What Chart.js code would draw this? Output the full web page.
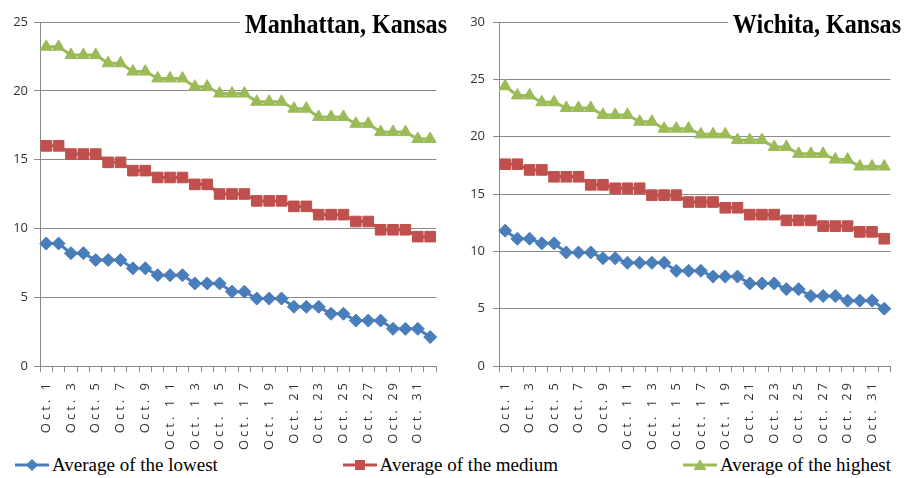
<!DOCTYPE html>
<html>
<head>
<meta charset="utf-8">
<script src="https://cdn.jsdelivr.net/npm/chart.js@4.4.0/dist/chart.umd.min.js"></script>
<style>
  html, body { margin: 0; padding: 0; background: #fff; }
  #wrap { position: relative; width: 908px; height: 478px; overflow: hidden; }
  #manhattan { position: absolute; left: 0; top: 0; }
  #wichita { position: absolute; left: 454px; top: 0; }
  #legend {
    position: absolute; left: 0; top: 455px; width: 908px; box-sizing: border-box;
    padding: 0 17px 0 15px; display: flex; justify-content: space-between;
    font: 19px "Liberation Serif", serif; line-height: 19px; color: #000;
  }
  .item { display: flex; align-items: center; white-space: nowrap; }
  .item svg { margin-right: 3px; }
</style>
</head>
<body>
<div id="wrap">
  <canvas id="manhattan" width="454" height="452"></canvas>
  <canvas id="wichita" width="454" height="452"></canvas>
  <div id="legend"></div>
</div>
<script>
// categories (every other one is shown on the axis)
const dayLabels = ['Oct. 1', 'Oct. 2', 'Oct. 3', 'Oct. 4', 'Oct. 5', 'Oct. 6', 'Oct. 7', 'Oct. 8',
  'Oct. 9', 'Oct. 10', 'Oct. 1 1', 'Oct. 12', 'Oct. 1 3', 'Oct. 14', 'Oct. 1 5', 'Oct. 16',
  'Oct. 1 7', 'Oct. 18', 'Oct. 1 9', 'Oct. 20', 'Oct. 21', 'Oct. 22', 'Oct. 23', 'Oct. 24',
  'Oct. 25', 'Oct. 26', 'Oct. 27', 'Oct. 28', 'Oct. 29', 'Oct. 30', 'Oct. 31', 'Nov. 1'];

const seriesNames = ['Average of the lowest', 'Average of the medium', 'Average of the highest'];
const cities = ['Manhattan, Kansas', 'Wichita, Kansas'];
const yMaxes = [25, 30];
const yStep = 5;

// Manhattan
const manhattanLowest = [8.9, 8.9, 8.2, 8.2, 7.7, 7.7, 7.7, 7.1, 7.1, 6.6, 6.6, 6.6, 6.0, 6.0, 6.0, 5.4,
  5.4, 4.9, 4.9, 4.9, 4.3, 4.3, 4.3, 3.8, 3.8, 3.3, 3.3, 3.3, 2.7, 2.7, 2.7, 2.1];
const manhattanMedium = [16.0, 16.0, 15.4, 15.4, 15.4, 14.8, 14.8, 14.2, 14.2, 13.7, 13.7, 13.7, 13.2, 13.2, 12.5, 12.5,
  12.5, 12.0, 12.0, 12.0, 11.6, 11.6, 11.0, 11.0, 11.0, 10.5, 10.5, 9.9, 9.9, 9.9, 9.4, 9.4];
const manhattanHighest = [23.2, 23.2, 22.6, 22.6, 22.6, 22.0, 22.0, 21.4, 21.4, 20.9, 20.9, 20.9, 20.3, 20.3, 19.8, 19.8,
  19.8, 19.2, 19.2, 19.2, 18.7, 18.7, 18.1, 18.1, 18.1, 17.6, 17.6, 17.0, 17.0, 17.0, 16.5, 16.5];

// Wichita
const wichitaLowest = [11.8, 11.1, 11.1, 10.7, 10.7, 9.9, 9.9, 9.9, 9.4, 9.4, 9.0, 9.0, 9.0, 9.0, 8.3, 8.3,
  8.3, 7.8, 7.8, 7.8, 7.2, 7.2, 7.2, 6.7, 6.7, 6.1, 6.1, 6.1, 5.7, 5.7, 5.7, 5.0];
const wichitaMedium = [17.6, 17.6, 17.1, 17.1, 16.5, 16.5, 16.5, 15.8, 15.8, 15.5, 15.5, 15.5, 14.9, 14.9, 14.9, 14.3,
  14.3, 14.3, 13.8, 13.8, 13.2, 13.2, 13.2, 12.7, 12.7, 12.7, 12.2, 12.2, 12.2, 11.7, 11.7, 11.1];
const wichitaHighest = [24.4, 23.6, 23.6, 23.0, 23.0, 22.5, 22.5, 22.5, 21.9, 21.9, 21.9, 21.3, 21.3, 20.7, 20.7, 20.7,
  20.2, 20.2, 20.2, 19.7, 19.7, 19.7, 19.1, 19.1, 18.5, 18.5, 18.5, 18.0, 18.0, 17.4, 17.4, 17.4];

const seriesColors = ['#4a7ebb', '#c0504d', '#9bbb59'];
const pointStyles = ['rectRot', 'rect', 'triangle'];
const pointSizes = [6.5, 7.5, 7];
const gridColor = '#8a8a8a';
const tickFont = { family: '"Open Sans", sans-serif', size: 13 };

// city name in the top right corner, over the top gridline
const cornerTitle = {
  id: 'cornerTitle',
  afterDraw(chart, args, opts) {
    const c = chart.ctx;
    const squeeze = 0.86;
    c.save();
    c.font = 'bold 28px "Liberation Serif", serif';
    const w = c.measureText(opts.text).width * squeeze;
    const right = chart.width - 7;
    c.fillStyle = '#fff';
    c.fillRect(right - w - 5, 2, w + 8, 36);
    c.translate(right - w, 33);
    c.scale(squeeze, 1);
    c.fillStyle = '#000';
    c.textBaseline = 'alphabetic';
    c.fillText(opts.text, 0, 0);
    c.restore();
  }
};

// the x labels in the picture are widely spaced
const spacedTicks = {
  id: 'spacedTicks',
  afterLayout(chart) {
    const sc = chart.scales.x;
    if (sc.spaced) return;
    const draw = sc.drawLabels;
    sc.drawLabels = function (area) {
      this.ctx.save();
      this.ctx.letterSpacing = '3px';
      draw.call(this, area);
      this.ctx.restore();
    };
    sc.spaced = true;
  }
};

function makeChart(id, title, series, yMax, axisWidth, padRight, labelPad) {
  return new Chart(document.getElementById(id), {
    type: 'line',
    data: {
      labels: dayLabels,
      datasets: series.map((values, i) => ({
        label: seriesNames[i],
        data: values,
        borderColor: seriesColors[i],
        backgroundColor: seriesColors[i],
        borderWidth: 3,
        pointStyle: pointStyles[i],
        pointRadius: pointSizes[i],
        pointBorderWidth: 1,
        tension: 0
      }))
    },
    options: {
      responsive: false,
      animation: false,
      events: [],
      layout: { padding: { top: 22, right: padRight, bottom: 0, left: 0 } },
      plugins: {
        legend: { display: false },
        tooltip: { enabled: false },
        cornerTitle: { text: title }
      },
      scales: {
        x: {
          offset: true,
          grid: { offset: true, drawOnChartArea: false, drawTicks: true, tickLength: 6, color: gridColor },
          border: { display: true, color: gridColor, width: 1 },
          ticks: {
            autoSkip: false,
            minRotation: 90,
            maxRotation: 90,
            padding: 8,
            color: '#333',
            font: tickFont,
            callback: (v, i) => (i % 2 === 0 ? dayLabels[i] : '')
          },
          afterFit: s => { s.height = 452 - 366; }
        },
        y: {
          min: 0,
          max: yMax,
          grid: { color: gridColor, tickLength: 6 },
          border: { display: true, color: gridColor, width: 1 },
          ticks: { stepSize: yStep, padding: labelPad, color: '#333', font: tickFont },
          afterFit: s => { s.width = axisWidth; }
        }
      }
    },
    plugins: [cornerTitle, spacedTicks]
  });
}

makeChart('manhattan', cities[0], [manhattanLowest, manhattanMedium, manhattanHighest], yMaxes[0], 40, 14, 6);
makeChart('wichita', cities[1], [wichitaLowest, wichitaMedium, wichitaHighest], yMaxes[1], 45, 7, 8);

// shared legend along the bottom
const markerShapes = [
  '<polygon points="17,1 23,7 17,13 11,7" />',
  '<rect x="12" y="2" width="10" height="10" />',
  '<polygon points="17,1 23.5,12 10.5,12" />'
];
const legend = document.getElementById('legend');
seriesNames.forEach((name, i) => {
  const item = document.createElement('div');
  item.className = 'item';
  item.innerHTML =
    `<svg width="34" height="14" fill="${seriesColors[i]}">` +
    `<line x1="0" y1="7" x2="34" y2="7" stroke="${seriesColors[i]}" stroke-width="3" />` +
    markerShapes[i] + '</svg><span>' + name + '</span>';
  legend.appendChild(item);
});
</script>
</body>
</html>
